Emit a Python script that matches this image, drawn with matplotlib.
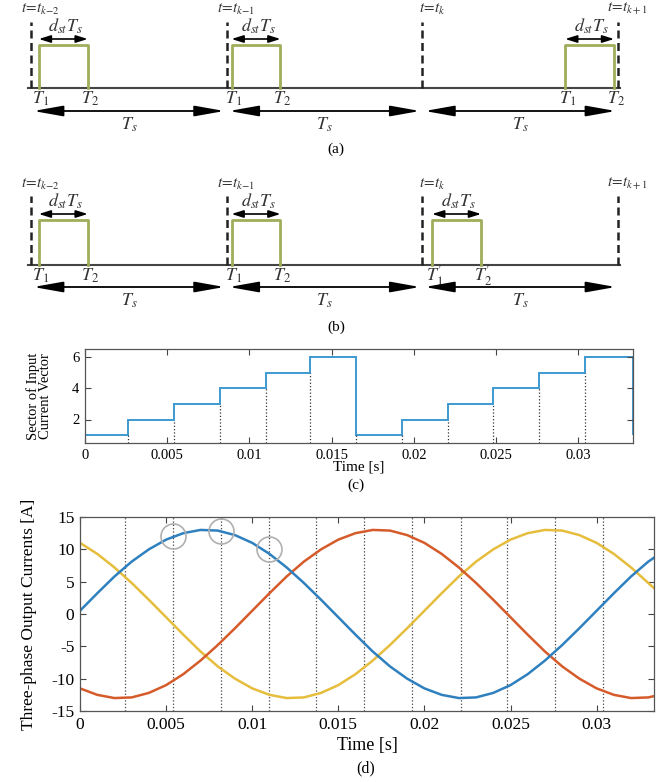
import matplotlib
matplotlib.use('Agg')
import numpy as np
from matplotlib import pyplot as plt

plt.rcParams['font.family'] = ['Liberation Serif', 'DejaVu Serif']
plt.rcParams['mathtext.fontset'] = 'stix'
plt.rcParams['axes.unicode_minus'] = False

# ---- schematic (a)/(b), positions in units of Ts ----
boundaries = [0, 1, 2, 3]
boundary_labels = [r'$t\!=\!t_{k\mathrm{-}2}$', r'$t\!=\!t_{k\mathrm{-}1}$',
                   r'$t\!=\!t_{k}$', r'$t\!=\!t_{k+1}$']
d_st = 0.25
pulse_start_a = [0.04, 0.025, 0.73]
pulse_start_b = [0.04, 0.025, 0.05]
pulse_labels_a = [(r'$T_1$', r'$T_2$')] * 3
pulse_labels_b = [(r'$T_1$', r'$T_2$'), (r'$T_1$', r'$T_2$'),
                  (r'$T_1^{\prime}$', r'$T_2^{\prime}$')]

# ---- (c) sector of input current vector ----
sector_edges = [0, 0.0026, 0.0054, 0.0082, 0.0110, 0.0137, 0.0165,
                0.0193, 0.0221, 0.0248, 0.0276, 0.0304, 1 / 30]
sector = [1, 2, 3, 4, 5, 6, 1, 2, 3, 4, 5, 6]

# ---- (d) three-phase output currents, read every 1 ms ----
t = np.append(np.arange(34) * 0.001, 1 / 30)
i_a = [0.5, 3.2, 5.8, 8.1, 10.0, 11.5, 12.5, 13.0, 12.9, 12.2, 11.0, 9.3,
       7.2, 4.8, 2.2, -0.5, -3.2, -5.8, -8.1, -10.0, -11.5, -12.5, -13.0,
       -12.9, -12.2, -11.0, -9.3, -7.2, -4.8, -2.2, 0.5, 3.2, 5.8, 8.1, 8.7]
i_b = [-11.5, -12.5, -13.0, -12.9, -12.2, -11.0, -9.3, -7.2, -4.8, -2.2,
       0.5, 3.2, 5.8, 8.1, 10.0, 11.5, 12.5, 13.0, 12.9, 12.2, 11.0, 9.3,
       7.2, 4.8, 2.2, -0.5, -3.2, -5.8, -8.1, -10.0, -11.5, -12.5, -13.0,
       -12.9, -12.7]
i_c = [11.0, 9.3, 7.2, 4.8, 2.2, -0.5, -3.2, -5.8, -8.1, -10.0, -11.5,
       -12.5, -13.0, -12.9, -12.2, -11.0, -9.3, -7.2, -4.8, -2.2, 0.5, 3.2,
       5.8, 8.1, 10.0, 11.5, 12.5, 13.0, 12.9, 12.2, 11.0, 9.3, 7.2, 4.8, 4.0]
circle_t = [0.0054, 0.0082, 0.0110]
circle_i = [12.0, 12.8, 10.0]

time_ticks = [0, 0.005, 0.01, 0.015, 0.02, 0.025, 0.03]
time_ticklabels = ['0', '0.005', '0.01', '0.015', '0.02', '0.025', '0.03']

W, H = 665, 782
fig = plt.figure(figsize=(W / 100, H / 100), dpi=100)

# overlay axes for the schematics: x in Ts, y in pixels from the top
Ts_px, x0_px = 195.67, 31
ax = fig.add_axes([0, 0, 1, 1])
ax.set_xlim(-x0_px / Ts_px, (W - x0_px) / Ts_px)
ax.set_ylim(H, 0)
ax.axis('off')

green = '#9fae5a'


def draw_row(y, starts, labels, caption):
    base, top = y['base'], y['top']
    ax.plot([-0.015, 3.01], [base, base], color='#444444', lw=1.5)
    for b, lab in zip(boundaries, boundary_labels):
        ax.plot([b, b], [base, y['dash']], color='#222222', lw=1.8,
                ls=(0, (3.2, 1.8)))
        ax.text(b + 0.05, y['tlab'], lab, fontsize=11, ha='center',
                va='center', color='#333333')
    for i, s in enumerate(starts):
        p = boundaries[i] + s
        ax.plot([p, p, p + d_st, p + d_st], [base, top, top, base],
                color=green, lw=2)
        ax.annotate('', xy=(p + d_st, y['arrow']), xytext=(p, y['arrow']),
                    arrowprops=dict(arrowstyle='<|-|>,head_length=0.7,head_width=0.22',
                                    color='black', lw=1.2, shrinkA=0, shrinkB=0))
        ax.text(p + d_st / 2 + 0.01, y['arrow'] - 3, r'$d_{st}T_s$',
                fontsize=13, ha='center', va='bottom', color='#333333')
        ax.text(p + 0.01, y['Tlab'], labels[i][0], fontsize=13, ha='center',
                va='center', color='#333333')
        ax.text(p + d_st + 0.01, y['Tlab'], labels[i][1], fontsize=13,
                ha='center', va='center', color='#333333')
    for b0, b1 in zip(boundaries[:-1], boundaries[1:]):
        ax.annotate('', xy=(b1 - 0.012, y['Ts']), xytext=(b0 + 0.012, y['Ts']),
                    arrowprops=dict(arrowstyle='<|-|>,head_length=1.8,head_width=0.32',
                                    color='black', lw=1.3, shrinkA=0, shrinkB=0))
        ax.text((b0 + b1) / 2, y['Tslab'], r'$T_s$', fontsize=13,
                ha='center', va='center', color='#333333')
    fig.text(336 / W, 1 - y['cap'] / H, caption, fontsize=11, ha='center',
             va='center')


draw_row(dict(tlab=9, dash=22, arrow=39, top=45, base=88, Tlab=99,
              Ts=111, Tslab=125, cap=149), pulse_start_a, pulse_labels_a, '(a)')
draw_row(dict(tlab=184, dash=196, arrow=214, top=220, base=265,
              Tlab=276, Ts=287, Tslab=301, cap=327), pulse_start_b,
         pulse_labels_b, '(b)')


def style_axes(a, fs):
    for sp in a.spines.values():
        sp.set_color('#555555')
        sp.set_linewidth(0.9)
    a.tick_params(direction='in', top=True, right=True, length=4,
                  labelsize=fs, color='#444444', pad=4)
    a.set_xticks(time_ticks)
    a.set_xticklabels(time_ticklabels)
    a.set_xlim(0, 1 / 30)


# ---- (c) ----
ax_c = fig.add_axes([85 / W, 1 - 443 / H, 548 / W, 94 / H])
ax_c.stairs(sector, sector_edges, baseline=1, color='#3d9ad1', lw=1.4)
for k in range(1, len(sector)):
    ax_c.vlines(sector_edges[k], 0.5, min(sector[k - 1], sector[k]),
                color='#333333', lw=0.9, ls=':')
ax_c.set_ylim(0.5, 6.5)
ax_c.set_yticks([2, 4, 6])
style_axes(ax_c, 10.5)
ax_c.set_ylabel('Sector of Input\nCurrent Vector', fontsize=10.5,
                linespacing=0.95)
ax_c.yaxis.set_label_coords(-0.06, 0.5)
ax_c.set_xlabel('Time [s]', fontsize=11)
ax_c.xaxis.set_label_coords(0.5, -0.19)
fig.text(356 / W, 1 - 485 / H, '(c)', fontsize=11, ha='center', va='center')

# ---- (d) ----
ax_d = fig.add_axes([80 / W, 1 - 711 / H, 574 / W, 194 / H])
for e in sector_edges[1:-1]:
    ax_d.axvline(e, color='#444444', lw=0.9, ls=':')
ax_d.plot(t, i_c, color='#e6bd3c', lw=1.8)
ax_d.plot(t, i_b, color='#d65b2b', lw=1.8)
ax_d.plot(t, i_a, color='#2f80bf', lw=1.8)
ax_d.plot(circle_t, circle_i, ls='none', marker='o', ms=18, mfc='none',
          mec='#b0b0b0', mew=1.2)
ax_d.set_ylim(-15, 15)
ax_d.set_yticks([-15, -10, -5, 0, 5, 10, 15])
style_axes(ax_d, 12.5)
ax_d.set_ylabel('Three-phase Output Currents [A]', fontsize=12.5)
ax_d.yaxis.set_label_coords(-0.075, 0.5)
ax_d.set_xlabel('Time [s]', fontsize=13)
ax_d.xaxis.set_label_coords(0.5, -0.135)
fig.text(366 / W, 1 - 768 / H, '(d)', fontsize=11.5, ha='center', va='center')

fig.savefig('out.png', dpi=100)
